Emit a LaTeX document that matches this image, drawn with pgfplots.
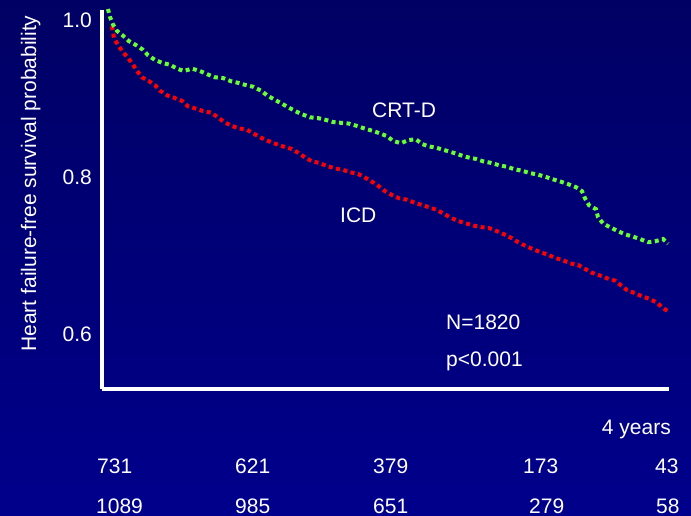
\documentclass[border=0pt]{standalone}
\usepackage{pgfplots}
\usepackage{pgfplotstable}
\pgfplotsset{compat=1.18}
\usepackage{fontspec}
\setmainfont{Liberation Sans}
\definecolor{bgtop}{RGB}{0,0,100}
\definecolor{bgbot}{RGB}{0,0,140}
\definecolor{crtdcol}{RGB}{102,255,51}
\definecolor{icdcol}{RGB}{255,0,0}

\pgfplotstableread{
x y
0.042 1.014
0.056 1.004
0.078 0.994
0.106 0.986
0.148 0.980
0.190 0.973
0.240 0.968
0.289 0.962
0.325 0.955
0.374 0.949
0.430 0.945
0.480 0.943
0.529 0.938
0.578 0.935
0.635 0.938
0.691 0.935
0.741 0.931
0.797 0.927
0.854 0.926
0.910 0.922
0.959 0.920
1.016 0.917
1.065 0.915
1.122 0.910
1.164 0.904
1.213 0.899
1.263 0.894
1.312 0.889
1.362 0.884
1.411 0.880
1.467 0.876
1.524 0.875
1.573 0.873
1.630 0.870
1.686 0.869
1.743 0.868
1.799 0.865
1.848 0.862
1.905 0.859
1.954 0.856
2.011 0.852
2.053 0.846
2.109 0.843
2.159 0.847
2.215 0.848
2.257 0.842
2.307 0.839
2.363 0.837
2.420 0.834
2.476 0.831
2.526 0.828
2.582 0.825
2.638 0.823
2.688 0.820
2.744 0.818
2.801 0.815
2.857 0.813
2.907 0.810
2.963 0.808
3.019 0.805
3.076 0.803
3.132 0.800
3.182 0.797
3.238 0.794
3.287 0.791
3.344 0.787
3.386 0.782
3.407 0.773
3.436 0.764
3.485 0.759
3.499 0.749
3.534 0.741
3.584 0.736
3.640 0.731
3.690 0.727
3.746 0.724
3.795 0.721
3.852 0.717
3.901 0.718
3.958 0.721
3.993 0.715
}\crtdtable

\pgfplotstableread{
x y
0.070 0.992
0.085 0.977
0.113 0.968
0.148 0.959
0.183 0.952
0.219 0.943
0.247 0.935
0.282 0.927
0.332 0.922
0.374 0.917
0.409 0.910
0.459 0.904
0.508 0.901
0.564 0.897
0.607 0.890
0.663 0.887
0.713 0.884
0.769 0.882
0.818 0.876
0.861 0.870
0.917 0.865
0.966 0.862
1.023 0.860
1.072 0.855
1.122 0.850
1.171 0.846
1.228 0.842
1.277 0.839
1.333 0.836
1.383 0.831
1.432 0.825
1.481 0.820
1.531 0.818
1.587 0.814
1.644 0.811
1.700 0.809
1.750 0.806
1.806 0.804
1.848 0.800
1.905 0.794
1.947 0.789
1.996 0.782
2.046 0.777
2.095 0.773
2.152 0.771
2.208 0.767
2.265 0.764
2.314 0.761
2.363 0.758
2.413 0.753
2.462 0.748
2.511 0.744
2.568 0.741
2.624 0.738
2.681 0.736
2.730 0.735
2.787 0.731
2.836 0.727
2.892 0.722
2.935 0.717
2.991 0.712
3.041 0.708
3.097 0.704
3.146 0.701
3.196 0.697
3.252 0.694
3.302 0.690
3.358 0.688
3.407 0.683
3.457 0.678
3.506 0.675
3.563 0.671
3.619 0.668
3.661 0.662
3.704 0.656
3.760 0.652
3.810 0.648
3.859 0.645
3.915 0.640
3.958 0.633
3.993 0.629
}\icdtable

\begin{document}
\begin{tikzpicture}
\useasboundingbox (0bp,0bp) rectangle (691bp,516bp);
\fill[top color=bgtop, bottom color=bgbot] (0bp,0bp) rectangle (691bp,516bp);
\begin{axis}[
  at={(102bp,127bp)}, anchor=south west,
  scale only axis, width=567bp, height=379bp,
  xmin=0, xmax=4, ymin=0.530, ymax=1.0127,
  axis x line=bottom, axis y line=left,
  axis line style={white, line width=3.5bp, -},
  xtick=\empty,
  ytick={0.6,0.8,1.0}, yticklabels={0.6,0.8,1.0},
  major tick length=0pt,
  yticklabel style={text=white, font=\fontsize{21bp}{25bp}\selectfont, anchor=east, inner sep=0pt, xshift=-10bp},
  clip=false,
]
\addplot[icdcol, line width=4bp, dash pattern=on 4bp off 3.5bp] table[x=x,y=y] {\icdtable};
\addplot[crtdcol, line width=4bp, dash pattern=on 4bp off 3.5bp] table[x=x,y=y] {\crtdtable};
\end{axis}
\begin{scope}[every node/.style={text=white, inner sep=0pt, font=\fontsize{21bp}{25bp}\selectfont}]
\node[rotate=90, anchor=base] at (36bp,332.5bp) {Heart failure-free survival probability};
\node[anchor=base west] at (372bp,398bp) {CRT-D};
\node[anchor=base west] at (340bp,293bp) {ICD};
\node[anchor=base west] at (446bp,186bp) {N=1820};
\node[anchor=base west] at (446bp,149bp) {p<0.001};
\node[anchor=base east] at (671bp,81bp) {4 years};
\node[anchor=base west] at (97bp,42bp) {731};
\node[anchor=base west] at (235bp,42bp) {621};
\node[anchor=base west] at (373bp,42bp) {379};
\node[anchor=base west] at (523bp,42bp) {173};
\node[anchor=base west] at (655bp,42bp) {43};
\node[anchor=base west] at (96bp,3bp) {1089};
\node[anchor=base west] at (235bp,3bp) {985};
\node[anchor=base west] at (373bp,3bp) {651};
\node[anchor=base west] at (529bp,3bp) {279};
\node[anchor=base west] at (656bp,3bp) {58};
\end{scope}
\end{tikzpicture}
\end{document}
